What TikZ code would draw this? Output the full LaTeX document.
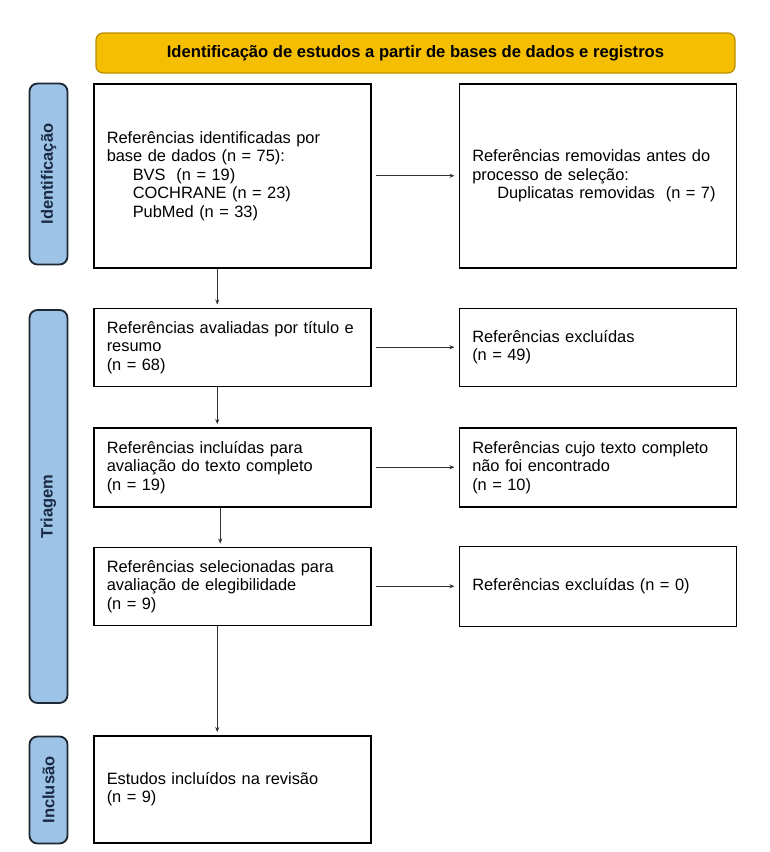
\documentclass[tikz,border=0pt]{standalone}
\usepackage{fontspec}
\setmainfont{Liberation Sans}
\usetikzlibrary{positioning, arrows.meta}
\definecolor{headyellow}{HTML}{F5BE00}
\definecolor{headedge}{HTML}{B88E00}
\definecolor{phaseblue}{HTML}{9DC3E6}
\definecolor{phaseedge}{HTML}{1E2833}
\definecolor{phasetext}{HTML}{1B2A44}

\begin{document}
\begin{tikzpicture}[x=1pt, y=-1pt,
    every node/.style={font=\fontsize{16.4}{18.5}\selectfont},
    box/.style={draw, line width=1.5pt, minimum width=277pt, inner xsep=13pt, text width=251pt, align=left},
    phase/.style={draw=phaseedge, line width=1.8pt, fill=phaseblue, rounded corners=8pt, minimum height=38pt, rotate=90, text=phasetext, font=\fontsize{16.5}{18}\selectfont\bfseries},
    flow/.style={-{Stealth[length=5pt, width=4pt]}, line width=0.8pt, draw=black!80}]
  \fill[white] (0,0) rectangle (770,852);
  \useasboundingbox (0,0) rectangle (770,852);

  \node[draw=headedge, fill=headyellow, rounded corners=7pt, line width=1.2pt, minimum width=639pt, minimum height=40pt, font=\fontsize{16.6}{18.5}\selectfont\bfseries] (head) at (415.5,53) {Identificação de estudos a partir de bases de dados e registros};

  % fases
  \node[phase, minimum width=181pt] (phid) at (48.5,174) {Identificação};
  \node[phase, minimum width=393pt] (phtri) at (48.5,506.5) {Triagem};
  \node[phase, minimum width=107pt] (phinc) at (48.5,790) {Inclusão};

  % coluna principal
  \node[box, minimum height=184pt, anchor=north west] (refid) at (93,83) {Referências identificadas por\\ base de dados (n = 75):\\ \hspace*{26pt}BVS\ \ (n = 19)\\ \hspace*{26pt}COCHRANE (n = 23)\\ \hspace*{26pt}PubMed (n = 33)};
  \node[box, minimum height=78pt, below=39pt of refid] (screen) {Referências avaliadas por título e\\ resumo\\ (n = 68)};
  \node[box, minimum height=79pt, below=40pt of screen] (full) {Referências incluídas para\\ avaliação do texto completo\\ (n = 19)};
  \node[box, minimum height=78pt, below=39pt of full] (elig) {Referências selecionadas para\\ avaliação de elegibilidade\\ (n = 9)};
  \node[box, minimum height=107pt, below=109pt of elig] (incl) {Estudos incluídos na revisão\\ (n = 9)};

  % exclusoes
  \node[box, minimum height=184pt, right=87pt of refid] (refrem) {Referências removidas antes do\\ processo de seleção:\\ \hspace*{25pt}Duplicatas removidas\ \ (n = 7)};
  \node[box, minimum height=78pt, right=87pt of screen] (excl) {Referências excluídas\\ (n = 49)};
  \node[box, minimum height=79pt, right=87pt of full] (nofull) {Referências cujo texto completo\\ não foi encontrado\\ (n = 10)};
  \node[box, minimum height=80pt, right=87pt of elig] (exclzero) {Referências excluídas (n = 0)};

  \draw[flow, shorten >=3pt] ([xshift=-15pt]refid.south) -- ([xshift=-15pt]screen.north);
  \draw[flow, shorten >=3pt] ([xshift=-15pt]screen.south) -- ([xshift=-15pt]full.north);
  \draw[flow, shorten >=3pt] ([xshift=-12pt]full.south) -- ([xshift=-12pt]elig.north);
  \draw[flow, shorten >=3pt] ([xshift=-15pt]elig.south) -- ([xshift=-15pt]incl.north);

  \draw[flow, shorten <=4pt, shorten >=4pt] (refid) -- (refrem);
  \draw[flow, shorten <=4pt, shorten >=4pt] (screen) -- (excl);
  \draw[flow, shorten <=4pt, shorten >=4pt] (full) -- (nofull);
  \draw[flow, shorten <=4pt, shorten >=4pt] (elig) -- (exclzero);
\end{tikzpicture}
\end{document}
